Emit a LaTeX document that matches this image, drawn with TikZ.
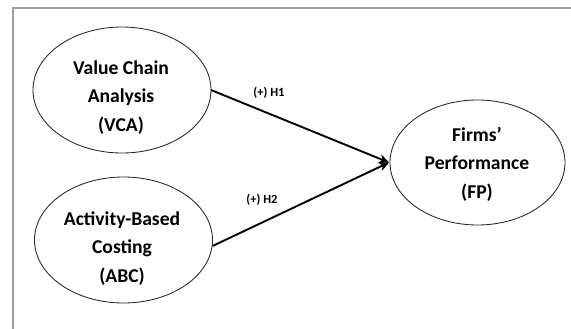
\documentclass[tikz,border=0pt]{standalone}
\usepackage{fontspec}
\setmainfont{Carlito}
\usetikzlibrary{shapes.geometric,arrows.meta}

\tikzset{
  construct/.style={ellipse, draw=black!85, line width=0.85pt,
    minimum width=#1, minimum height=126pt, inner sep=0pt, outer sep=0pt},
  construct/.default=178pt,
  conlabel/.style={font=\fontsize{19.6}{28.5}\selectfont\bfseries, align=center,
    inner sep=0pt, text=black},
  path/.style={line width=1.9pt, black,
    -{Stealth[length=10pt,width=9pt,inset=3pt]}},
  hyp/.style={font=\fontsize{12.5}{14}\selectfont\bfseries, inner sep=0pt}
}

\begin{document}
\begin{tikzpicture}[x=1pt,y=-1pt]
  \useasboundingbox (0,0) rectangle (571,329);
  \fill[white] (0,0) rectangle (571,329);

  % outer frame (top and left edges)
  \draw[line width=2pt, black!38] (12.5,329) -- (12.5,8.5) -- (571,8.5);

  % constructs
  \node[construct] (vca) at (122,90) {};
  \node[construct] (abc) at (123.5,240) {};
  \node[construct=175pt, minimum height=125pt] (fp) at (477.5,162.5) {};

  \node[conlabel] (vcat) at (121,97.5) {Value Chain\\Analysis\\(VCA)};
  \node[conlabel] (abct) at (122,248.5) {Activity-Based\\Costing\\(ABC)};
  \node[conlabel] (fpt) at (477,164) {Firms’\\Performance\\(FP)};

  % hypothesised paths
  \coordinate (tip) at ([xshift=-1pt]fp.west);
  \draw[path] (vca.east) -- (tip);
  \draw[path] ([yshift=-6pt]abc.east) -- (tip);

  \node[hyp] (h1) at (269,93) {(+) H1};
  \node[hyp] (h2) at (262,200) {(+) H2};
\end{tikzpicture}
\end{document}
